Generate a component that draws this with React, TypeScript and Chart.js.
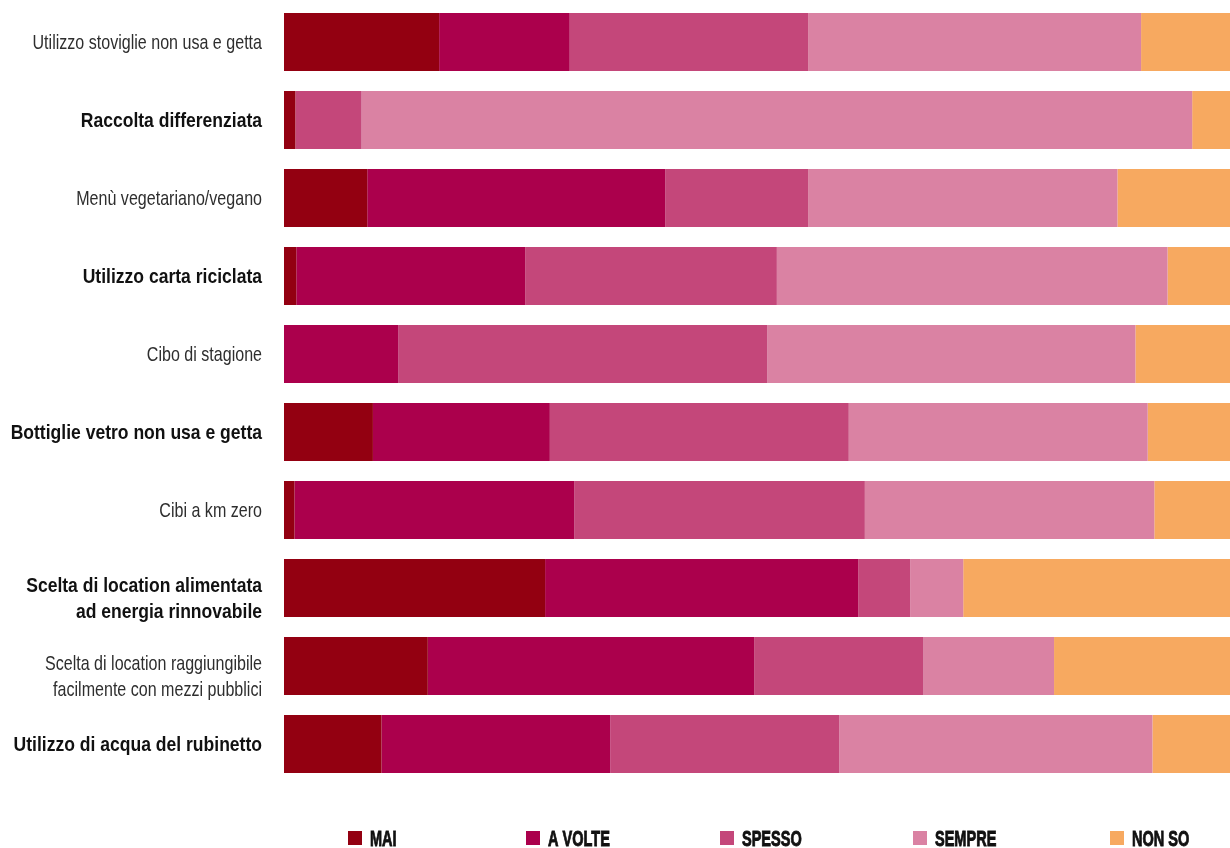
import React, { useEffect, useRef } from "react";
import { Chart, registerables } from "chart.js";

Chart.register(...registerables);

const categories: string[][] = [
  ["Utilizzo stoviglie non usa e getta"],
  ["Raccolta differenziata"],
  ["Menù vegetariano/vegano"],
  ["Utilizzo carta riciclata"],
  ["Cibo di stagione"],
  ["Bottiglie vetro non usa e getta"],
  ["Cibi a km zero"],
  ["Scelta di location alimentata", "ad energia rinnovabile"],
  ["Scelta di location raggiungibile", "facilmente con mezzi pubblici"],
  ["Utilizzo di acqua del rubinetto"],
];
const boldRows = [false, true, false, true, false, true, false, true, false, true];

const seriesNames = ["MAI", "A VOLTE", "SPESSO", "SEMPRE", "NON SO"];
const seriesColors = ["#930011", "#AB004C", "#C4477A", "#DA82A3", "#F7A960"];

const mai = [16.4, 1.2, 8.8, 1.3, 0, 9.4, 1.1, 27.6, 15.2, 10.3];
const aVolte = [13.8, 0, 31.5, 24.2, 12.1, 18.7, 29.6, 33.1, 34.5, 24.2];
const spesso = [25.2, 7.0, 15.1, 26.6, 39.0, 31.6, 30.7, 5.5, 17.9, 24.2];
const sempre = [35.2, 87.8, 32.7, 41.3, 38.9, 31.6, 30.6, 5.6, 13.8, 33.1];
const nonSo = [9.4, 4.0, 11.9, 6.6, 10.0, 8.7, 8.1, 28.2, 18.6, 8.2];

const seriesValues = [mai, aVolte, spesso, sempre, nonSo];

const FONT = "'Liberation Sans', Arial, sans-serif";

// draws condensed category labels at the y-scale's tick positions
const labelPlugin = {
  id: "condensedLabels",
  afterDraw(chart: any) {
    const ctx = chart.ctx;
    const yScale = chart.scales.y;
    const right = yScale.right - 22;
    ctx.save();
    ctx.textAlign = "right";
    ctx.textBaseline = "alphabetic";
    categories.forEach((lines, i) => {
      const center = yScale.getPixelForValue(i);
      const bold = boldRows[i];
      const sx = bold ? 0.835 : 0.765;
      ctx.font = `${bold ? "bold " : ""}21px ${FONT}`;
      ctx.fillStyle = bold ? "#111111" : "#2e2e2e";
      lines.forEach((line, j) => {
        const baseline = lines.length === 1 ? center + 7 : center + 4 + j * 26;
        ctx.save();
        ctx.translate(right, baseline);
        ctx.scale(sx, 1);
        ctx.fillText(line, 0, 0);
        ctx.restore();
      });
    });
    ctx.restore();
  },
};

const legendPlugin = {
  id: "customLegend",
  afterDraw(chart: any) {
    const ctx = chart.ctx;
    const starts = [348, 526, 720, 913, 1110];
    const boxTop = 831;
    ctx.save();
    ctx.font = `bold 22px ${FONT}`;
    ctx.textBaseline = "alphabetic";
    ctx.textAlign = "left";
    seriesNames.forEach((name, i) => {
      const x = starts[i];
      ctx.fillStyle = seriesColors[i];
      ctx.fillRect(x, boxTop, 14, 14);
      ctx.fillStyle = "#111111";
      ctx.strokeStyle = "#111111";
      ctx.lineWidth = 0.9;
      ctx.save();
      ctx.translate(x + 22, 846);
      ctx.scale(0.66, 1);
      ctx.fillText(name, 0, 0);
      ctx.strokeText(name, 0, 0);
      ctx.restore();
    });
    ctx.restore();
  },
};

export default function App() {
  const ref = useRef<HTMLCanvasElement | null>(null);
  useEffect(() => {
    if (!ref.current) return;
    const chart = new Chart(ref.current, {
      type: "bar",
      data: {
        labels: categories.map((l) => l.join(" ")),
        datasets: seriesNames.map((name, i) => ({
          label: name,
          data: seriesValues[i],
          backgroundColor: seriesColors[i],
          borderWidth: 0,
          barPercentage: 0.744,
          categoryPercentage: 1,
        })),
      },
      options: {
        indexAxis: "y",
        animation: false,
        responsive: false,
        maintainAspectRatio: false,
        layout: { padding: { top: 3, bottom: 65, left: 0, right: 0 } },
        plugins: {
          legend: { display: false },
          tooltip: { enabled: false },
        },
        scales: {
          x: {
            stacked: true,
            min: 0,
            max: 100,
            display: false,
          },
          y: {
            stacked: true,
            grid: { display: false, drawTicks: false },
            border: { display: false },
            ticks: { display: false },
            afterFit: (scale: any) => {
              scale.width = 284;
              scale.paddingTop = 0;
              scale.paddingBottom = 0;
            },
          },
        },
      },
      plugins: [labelPlugin, legendPlugin],
    });
    return () => chart.destroy();
  }, []);
  return (
    <div style={{ position: "absolute", left: 0, top: 0, width: 1230, height: 848, background: "#fff" }}>
      <canvas ref={ref} width={1230} height={848} style={{ width: 1230, height: 848, display: "block" }} />
    </div>
  );
}
